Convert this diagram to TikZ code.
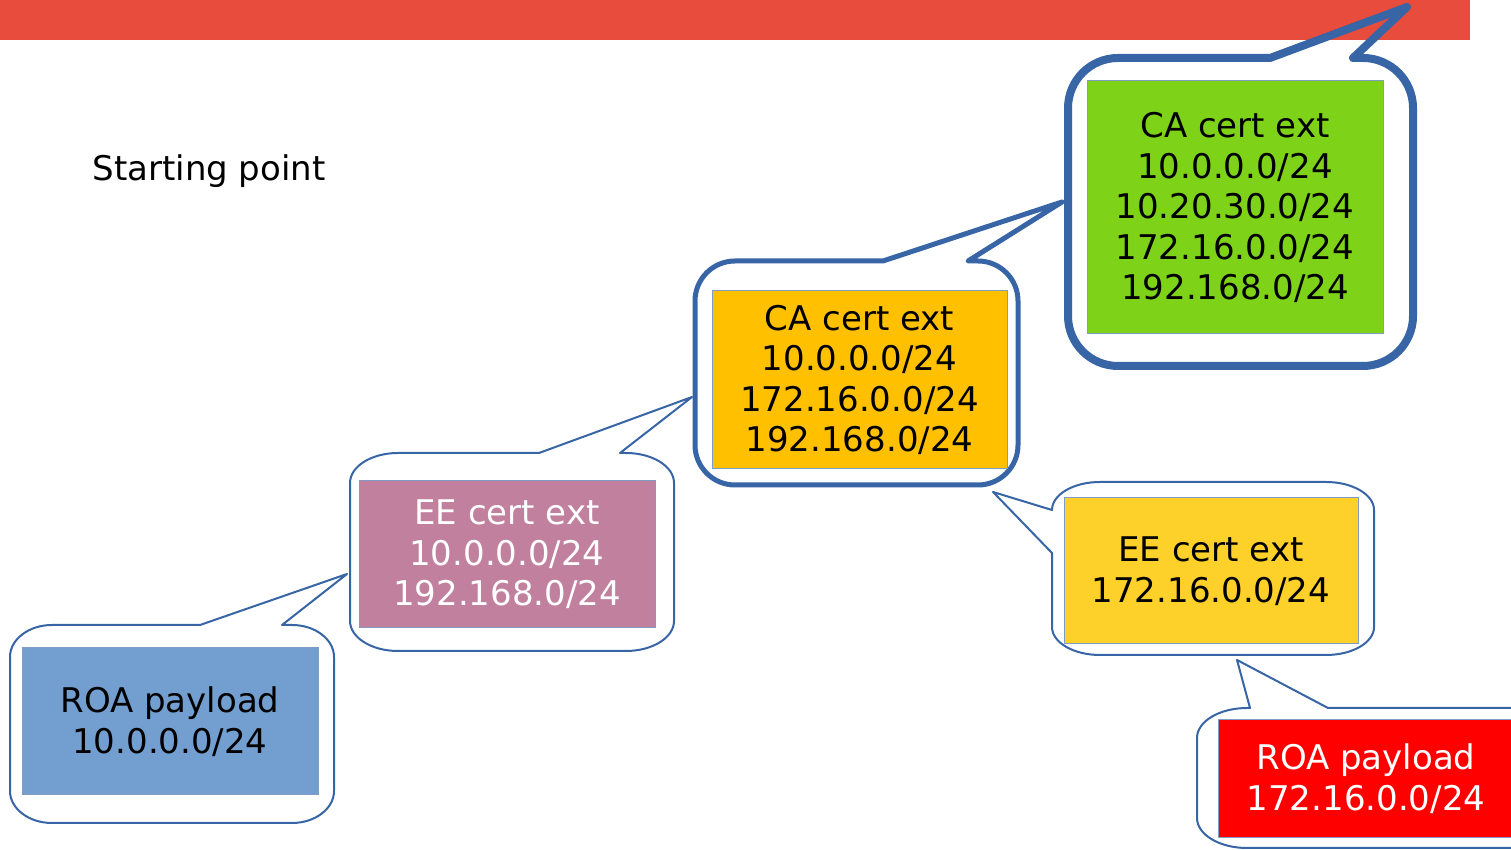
\documentclass[tikz,border=0pt]{standalone}
\usepackage{fontspec}
\setmainfont{DejaVu Sans}
\usetikzlibrary{positioning}
\definecolor{banner}{HTML}{E84C3D}
\definecolor{bubbleline}{HTML}{3765A5}
\definecolor{boxline}{HTML}{7F9CC4}
\definecolor{cagreen}{HTML}{7ED319}
\definecolor{caorange}{HTML}{FFC000}
\definecolor{eepink}{HTML}{C0809E}
\definecolor{eeyellow}{HTML}{FDD12A}
\definecolor{roablue}{HTML}{729FCF}
\definecolor{roared}{HTML}{FF0000}
\begin{document}
\begin{tikzpicture}[x=1pt, y=1pt,
    certbox/.style={draw=boxline, line width=1pt, minimum width=296pt, inner sep=0pt, align=center, font=\fontsize{34}{40.5}\selectfont},
    bubble/.style={draw=bubbleline, line width=2pt, line join=round}
]
    \useasboundingbox (0,0) rectangle (1511,850);

    % Banner
    \fill[banner] (0,810) rectangle (1470,850);
    \node[anchor=base west, font=\fontsize{34}{40.5}\selectfont] (start) at (89,669) {Starting point};

    % Bubbles
    \draw[bubble, line width=8pt] (1068,640) -- (1068,742) arc[start angle=180, end angle=90, radius=50] -- (1270,792) -- (1407,843) -- (1353,792) -- (1363,792) arc[start angle=90, end angle=0, radius=50] -- (1413,534) arc[start angle=0, end angle=-90, radius=50] -- (1118,484) arc[start angle=270, end angle=180, radius=50] -- cycle;
    \draw[bubble, line width=5pt] (695,480) -- (695,549) arc[start angle=180, end angle=90, radius=40] -- (883,589) -- (1062,648) -- (968,589) -- (978,589) arc[start angle=90, end angle=0, radius=40] -- (1018,405) arc[start angle=0, end angle=-90, radius=40] -- (735,365) arc[start angle=270, end angle=180, radius=40] -- cycle;
    \draw[bubble] (350,300) -- (350,367) arc[start angle=180, end angle=90, x radius=48, y radius=30] -- (539,397) -- (692,453) -- (620,397) -- (626,397) arc[start angle=90, end angle=0, x radius=48, y radius=30] -- (674,229) arc[start angle=0, end angle=-90, x radius=48, y radius=30] -- (398,199) arc[start angle=270, end angle=180, x radius=48, y radius=30] -- cycle;
    \draw[bubble] (10,120) -- (10,193) arc[start angle=180, end angle=90, x radius=42, y radius=32] -- (200,225) -- (347,276) -- (282,225) -- (292,225) arc[start angle=90, end angle=0, x radius=42, y radius=32] -- (334,59) arc[start angle=0, end angle=-90, x radius=42, y radius=32] -- (52,27) arc[start angle=270, end angle=180, x radius=42, y radius=32] -- cycle;
    \draw[bubble] (1052,250) -- (1052,297) -- (993,358) -- (1052,340) arc[start angle=180, end angle=90, x radius=48, y radius=28] -- (1326,368) arc[start angle=90, end angle=0, x radius=48, y radius=28] -- (1374,223) arc[start angle=0, end angle=-90, x radius=48, y radius=28] -- (1100,195) arc[start angle=270, end angle=180, x radius=48, y radius=28] -- cycle;
    \draw[bubble] (1197,60) -- (1197,112) arc[start angle=180, end angle=90, x radius=50, y radius=30] -- (1250,142) -- (1237,190) -- (1328,142) -- (1560,142) -- (1560,2) -- (1247,2) arc[start angle=270, end angle=180, x radius=50, y radius=30] -- cycle;

    % Certificates
    \node[certbox, fill=cagreen, minimum height=253pt] (ca1) at (1235,642.5) {CA cert ext\\10.0.0.0/24\\10.20.30.0/24\\172.16.0.0/24\\192.168.0/24};
    \node[certbox, fill=caorange, minimum width=295pt, minimum height=178pt] (ca2) at (859.5,470) {CA cert ext\\10.0.0.0/24\\172.16.0.0/24\\192.168.0/24};
    \node[certbox, fill=eepink, text=white, minimum height=147pt] (ee1) at (507,295.5) {EE cert ext\\10.0.0.0/24\\192.168.0/24};
    \node[certbox, fill=eeyellow, minimum width=294pt, minimum height=146pt] (ee2) at (1211,279) {EE cert ext\\172.16.0.0/24};

    % ROAs
    \node[certbox, fill=roablue, minimum height=147pt] (roa1) at (170,128.5) {ROA payload\\10.0.0.0/24};
    \node[certbox, fill=roared, text=white, minimum height=118pt] (roa2) at (1366,71.5) {ROA payload\\172.16.0.0/24};
\end{tikzpicture}
\end{document}
